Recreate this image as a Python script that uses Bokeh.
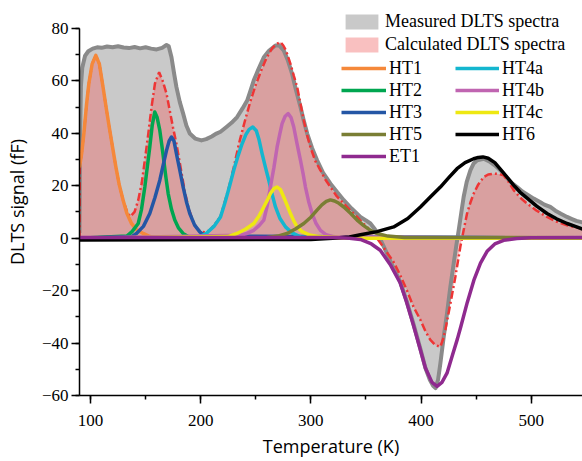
from bokeh.plotting import figure
from bokeh.models import Legend, LegendItem, SingleIntervalTicker, Range1d
from bokeh.embed import file_html
from bokeh.resources import INLINE

# ---------------- data ----------------
MEAS_T = [90, 90.6, 91.3, 92.5, 95, 98, 102, 106, 110, 115, 120, 125, 130, 135, 140, 145, 150, 155,
          160, 165, 169, 171, 173.5, 176, 178, 181, 184.1, 187, 190.1, 195, 200.7, 205, 210, 214.3,
          218, 223.4, 228, 233.1, 238, 242.2, 245, 248.2, 252, 257.3, 262, 267.9, 271, 275.4, 279,
          283, 286.5, 290.6, 293.5, 296.7, 301, 305.7, 311, 317.8, 324, 329.9, 337, 345, 350, 354.1,
          358, 362, 366, 372, 381, 387, 393, 399, 404, 408, 411, 413.2, 415.5, 417.6, 420.5, 423.6,
          426.5, 429.7, 432, 434.2, 436.5, 438.7, 441.5, 444.8, 447.8, 451, 456.9, 462, 467, 472,
          478, 482.5, 487.2, 492, 497, 502.3, 508, 512, 517.4, 522, 527, 532.6, 537, 541, 547]
MEAS_S = [2, 40, 58, 65, 69.5, 71.3, 72.3, 72.8, 72.6, 73.1, 72.8, 73.2, 72.7, 72.5, 72.9, 72.4, 72.8,
          72.3, 72.0, 72.6, 73.7, 73.2, 69, 62.5, 57.6, 52, 47.5, 43, 39.9, 38, 37.3, 37.8, 38.8, 39.9,
          40.6, 42.4, 44, 46.2, 49.5, 52.5, 56, 60.2, 64, 69, 71.5, 73.5, 73.6, 71.6, 68, 62.7, 56.5,
          50, 45, 39.9, 34.5, 29.7, 25, 20.8, 17.5, 14.5, 11.3, 8.1, 6.8, 5.6, 3.5, 0.5, -3, -8.5,
          -16.5, -24, -32.5, -41.5, -49.5, -54, -56.3, -57.2, -54, -47.7, -38, -28.7, -19, -9.6, -3,
          3, 9.5, 15.7, 21.5, 25.9, 28.5, 29.7, 30.3, 29.3, 27.8, 25.9, 23, 21, 19.5, 17.8, 16.5,
          15.1, 13.8, 12.8, 11.9, 10.5, 9.3, 8.1, 7.3, 6.6, 6.0]

CALC_T = [90, 90.3, 92, 94, 96.4, 98.5, 101.5, 104.8, 108, 111.4, 114.5, 117.5, 120.5, 123, 126, 129.6,
          133, 136, 140, 143.3, 146.5, 149.3, 152.5, 155.4, 158.5, 162.3, 165.5, 169, 172, 175, 178,
          182.6, 185.5, 188.7, 192.5, 196.2, 200, 204, 208, 212, 218, 222, 226, 230, 235, 240, 245,
          250, 255, 260, 265, 268.5, 272.4, 275, 277.5, 281.5, 284.5, 287.6, 290.5, 293.6, 296.5,
          299.6, 304, 308.7, 313, 317.8, 323.5, 329.9, 336, 342, 346.5, 351, 355.5, 360, 366, 370,
          375, 381, 387.3, 393, 399.5, 404, 408.5, 413, 417.6, 420, 422.1, 426.7, 431.2, 435.7,
          438.7, 441.8, 444.8, 447.8, 452, 456.9, 461, 466, 470, 475, 479.5, 484.1, 490, 496.3, 505,
          514.4, 523, 532.6, 540, 547]
CALC_S = [0, 27, 32.5, 40, 51, 59, 66.5, 69.7, 66.5, 57.6, 49, 41.1, 33.5, 27.2, 20.5, 14.5, 10.3, 8.2,
          10, 14.5, 21, 29.7, 40, 50, 59, 63.3, 60, 55.1, 48.5, 42, 36, 25, 18, 12, 7, 4, 2.5, 2.3, 3,
          4.8, 8.3, 14, 20, 27, 36.5, 44.5, 52, 58.5, 64, 69, 72.5, 74, 74.8, 73.5, 71.5, 66.5, 62,
          57.6, 51.5, 44.9, 39.5, 34.8, 29.5, 25.9, 22.5, 19.5, 16, 13.2, 10.5, 8.1, 6, 4.3, 2, 0,
          -3.5, -6, -9, -14, -20, -26, -31.2, -35.5, -38.8, -40.8, -41.4, -38.5, -35, -24.9, -14.7,
          -3.3, 3, 9.4, 13.5, 17, 20.5, 23.3, 24.3, 24.6, 24.5, 24, 21.5, 18.3, 15.5, 13.2, 10.5, 8.1,
          6.3, 4.9, 4.2, 3.5]

HT1_T = [90, 92, 94, 96.4, 98.5, 101.5, 104.8, 108, 111.4, 114.5, 117.5, 120.5, 123, 126, 129.6, 133,
         137.2, 142, 147.8, 153, 160, 547]
HT1_S = [27, 32.5, 40, 51, 59, 66.5, 69.7, 66.5, 57.6, 49, 41.1, 33.5, 27.2, 20.5, 14.5, 9.5, 5.6,
         3.2, 1.8, 0.8, 0, 0]

HT2_T = [90, 133, 137.7, 143.3, 146.3, 149.3, 151.5, 153.8, 156, 158.3, 160.5, 162.9, 164.7, 166.5,
         168.5, 170.5, 173.5, 176.5, 180, 184, 190, 547]
HT2_S = [0, 0.8, 2.5, 5.6, 11, 19.5, 27, 34.8, 43, 48.1, 46, 41.1, 35.5, 29.7, 23, 17, 11, 6.9, 3.8,
         1.8, 0.3, 0]

HT3_T = [90, 137, 141.7, 148, 153.8, 158.5, 162.9, 166, 169, 171.3, 173.5, 175.8, 178, 181, 184.1,
         187, 190.1, 194.5, 199.2, 204, 547]
HT3_S = [0, 0.5, 1.8, 4.5, 9.4, 15.5, 22.1, 28, 33.5, 37, 38.6, 37, 32.2, 26, 19.5, 14, 9.4, 5, 2.4,
         0.8, 0]

HT4A_T = [90, 198, 205, 212, 218, 222, 226, 230, 234, 237.6, 241, 244, 247.3, 250.5, 253, 255.8,
          258.8, 261.8, 265, 267.9, 272, 277, 283, 290.6, 547]
HT4A_S = [0, 0.3, 1.8, 4.5, 8.1, 13.5, 19.5, 25.9, 31.5, 36, 39.5, 41.5, 42.4, 41, 37.5, 32.2, 27,
          22.1, 16.5, 11.9, 7.5, 4.3, 2, 0.5, 0]

HT4B_T = [90, 236, 242, 248.2, 253, 257.3, 260.5, 263.3, 266.5, 269.4, 271.7, 273.9, 276.7, 279.4,
          282, 284.5, 287.5, 290.6, 293, 295.1, 298, 301.2, 304.5, 308.7, 314, 321, 547]
HT4B_S = [0, 1.1, 1.8, 3, 4.8, 6.9, 12.5, 19.5, 27, 34.8, 39.5, 43.7, 46.5, 47.5, 46, 42.4, 36, 29.7,
          24.5, 19.5, 14, 9.4, 5.8, 3, 1.3, 0.5, 0]

HT4C_T = [90, 225, 233, 241, 248.2, 253, 257.3, 260.5, 263.3, 266.5, 269.4, 272.5, 275.4, 278.5,
          281.5, 284.5, 287.6, 292, 299.6, 310, 330, 350, 547]
HT4C_S = [0, 0.6, 1.8, 3.5, 5.6, 8.5, 11.9, 14.5, 17, 18.9, 19.5, 18.5, 15.7, 12.5, 9.4, 6.6, 4.3, 2.5,
          1.1, 0.5, 0.2, 0, 0]

HT5_T = [90, 250, 260, 270, 278.4, 286, 293.6, 300, 305.6, 310, 314, 317.8, 321.5, 325.5, 329.9, 336,
         342, 348, 354.1, 360.2, 370, 385, 547]
HT5_S = [0, 0.1, 0.3, 0.8, 1.8, 3.5, 5.6, 8, 10.7, 12.7, 14, 14.6, 14.2, 13.3, 11.9, 9.5, 6.9, 4.8,
         3, 1.8, 0.8, 0.3, 0.2]

HT6_T = [90, 300, 320, 335, 345, 360, 375.2, 388, 399.5, 408, 417.6, 425, 432.7, 440, 447.8, 452,
         456.2, 461, 467, 472, 478.1, 485, 490, 496.3, 505, 514.4, 523, 532.6, 540, 547]
HT6_S = [-0.7, -0.5, 0, 0.5, 1.3, 2.5, 4.3, 7.5, 11.9, 15.5, 19.5, 23, 26.5, 28.8, 30.3, 30.8, 31,
         30.5, 28.8, 26.3, 23.3, 19.8, 17.5, 15.3, 12.2, 9.4, 7.4, 5.6, 4.5, 3.4]

ET1_T = [90, 320, 335, 345, 355, 363, 372, 381, 387, 393, 399, 404, 410, 414.6, 419, 423.6, 429, 433,
         436, 442, 448, 454, 460, 467, 475, 487, 500, 547]
ET1_S = [0.3, 0.3, 0, -0.5, -2.2, -4.6, -10, -17, -24.5, -33, -42, -49.5, -55, -56.5, -55, -51.5, -44,
         -38.5, -34, -24.5, -16, -9.5, -5, -2.2, -0.8, -0.1, 0.2, 0.3]

COMPONENTS = [
    ("HT1", HT1_T, HT1_S, "#f5883a"),
    ("HT2", HT2_T, HT2_S, "#00a650"),
    ("HT3", HT3_T, HT3_S, "#2456a5"),
    ("HT4a", HT4A_T, HT4A_S, "#14b6cf"),
    ("HT4b", HT4B_T, HT4B_S, "#c065b1"),
    ("HT4c", HT4C_T, HT4C_S, "#eee812"),
    ("HT5", HT5_T, HT5_S, "#7a7e34"),
    ("HT6", HT6_T, HT6_S, "#000000"),
    ("ET1", ET1_T, ET1_S, "#8f2a8f"),
]

X_TICK_STEP = 100
Y_TICK_STEP = 20

# ---------------- figure ----------------
p = figure(width=582, height=461, output_backend="svg", toolbar_location=None,
           x_range=Range1d(90, 546.6), y_range=Range1d(-60, 87.6),
           min_border_left=79, min_border_right=0, min_border_top=8, min_border_bottom=66)
p.outline_line_color = None
p.grid.visible = False
p.background_fill_color = "white"
p.border_fill_color = "white"

r_meas_fill = p.varea(x=MEAS_T, y1=[0] * len(MEAS_T), y2=MEAS_S, fill_color="#c9c9c9", fill_alpha=1.0)
r_calc_fill = p.varea(x=CALC_T, y1=[0] * len(CALC_T), y2=CALC_S, fill_color="#f06a6a", fill_alpha=0.42)
p.line(MEAS_T, MEAS_S, line_color="#8a8a8a", line_width=4, line_join="round")
p.line(CALC_T, CALC_S, line_color="#ee3535", line_width=2.5, line_dash="8 3 2 3")

comp_renderers = {}
for name, xs, ys, col in COMPONENTS:
    comp_renderers[name] = p.line(xs, ys, line_color=col, line_width=3.5, line_join="round")

# ---------------- axes ----------------
p.xaxis.ticker = SingleIntervalTicker(interval=X_TICK_STEP, num_minor_ticks=2)
p.yaxis.ticker = SingleIntervalTicker(interval=Y_TICK_STEP, num_minor_ticks=2)
p.yaxis.bounds = (-60, 80)
p.xaxis.axis_label = "Temperature (K)"
p.yaxis.axis_label = "DLTS signal (fF)"
for ax in (p.xaxis[0], p.yaxis[0]):
    ax.axis_line_width = 1.5
    ax.axis_line_color = "black"
    ax.major_tick_line_width = 1.5
    ax.major_tick_line_color = "black"
    ax.minor_tick_line_width = 1.5
    ax.minor_tick_line_color = "black"
    ax.major_tick_out = 8
    ax.major_tick_in = 0
    ax.minor_tick_out = 4
    ax.minor_tick_in = 0
    ax.major_label_text_font = "Liberation Serif"
    ax.major_label_text_font_size = "17px"
    ax.major_label_text_color = "black"
    ax.axis_label_text_font = "Open Sans"
    ax.axis_label_text_font_size = "18px"
    ax.axis_label_text_font_style = "normal"
    ax.axis_label_text_color = "black"
p.xaxis.major_label_standoff = 11
p.yaxis.major_label_standoff = 3
p.xaxis.axis_label_standoff = 5
p.yaxis.axis_label_standoff = 10

# ---------------- legends ----------------
def make_legend(items, loc, gh, lh, spacing, gw):
    lg = Legend(items=items, location=loc)
    lg.background_fill_alpha = 0
    lg.border_line_alpha = 0
    lg.padding = 0
    lg.margin = 0
    lg.spacing = spacing
    lg.glyph_height = gh
    lg.label_height = lh
    lg.glyph_width = gw
    lg.label_standoff = 3
    lg.label_text_font = "Liberation Serif"
    lg.label_text_font_size = "18px"
    lg.label_text_color = "black"
    lg.label_text_baseline = "middle"
    p.add_layout(lg)
    return lg

make_legend([LegendItem(label="Measured DLTS spectra", renderers=[r_meas_fill]),
             LegendItem(label="Calculated DLTS spectra", renderers=[r_calc_fill])],
            (262, 340), 19, 22, 1, 41)
col1 = ["HT1", "HT2", "HT3", "HT5", "ET1"]
col2 = ["HT4a", "HT4b", "HT4c", "HT6"]
make_legend([LegendItem(label=n, renderers=[comp_renderers[n]]) for n in col1],
            (262, 228), 22, 22, 0, 45)
make_legend([LegendItem(label=n, renderers=[comp_renderers[n]]) for n in col2],
            (376, 250), 22, 22, 0, 44)

open("out.html", "w").write(file_html(p, INLINE))
